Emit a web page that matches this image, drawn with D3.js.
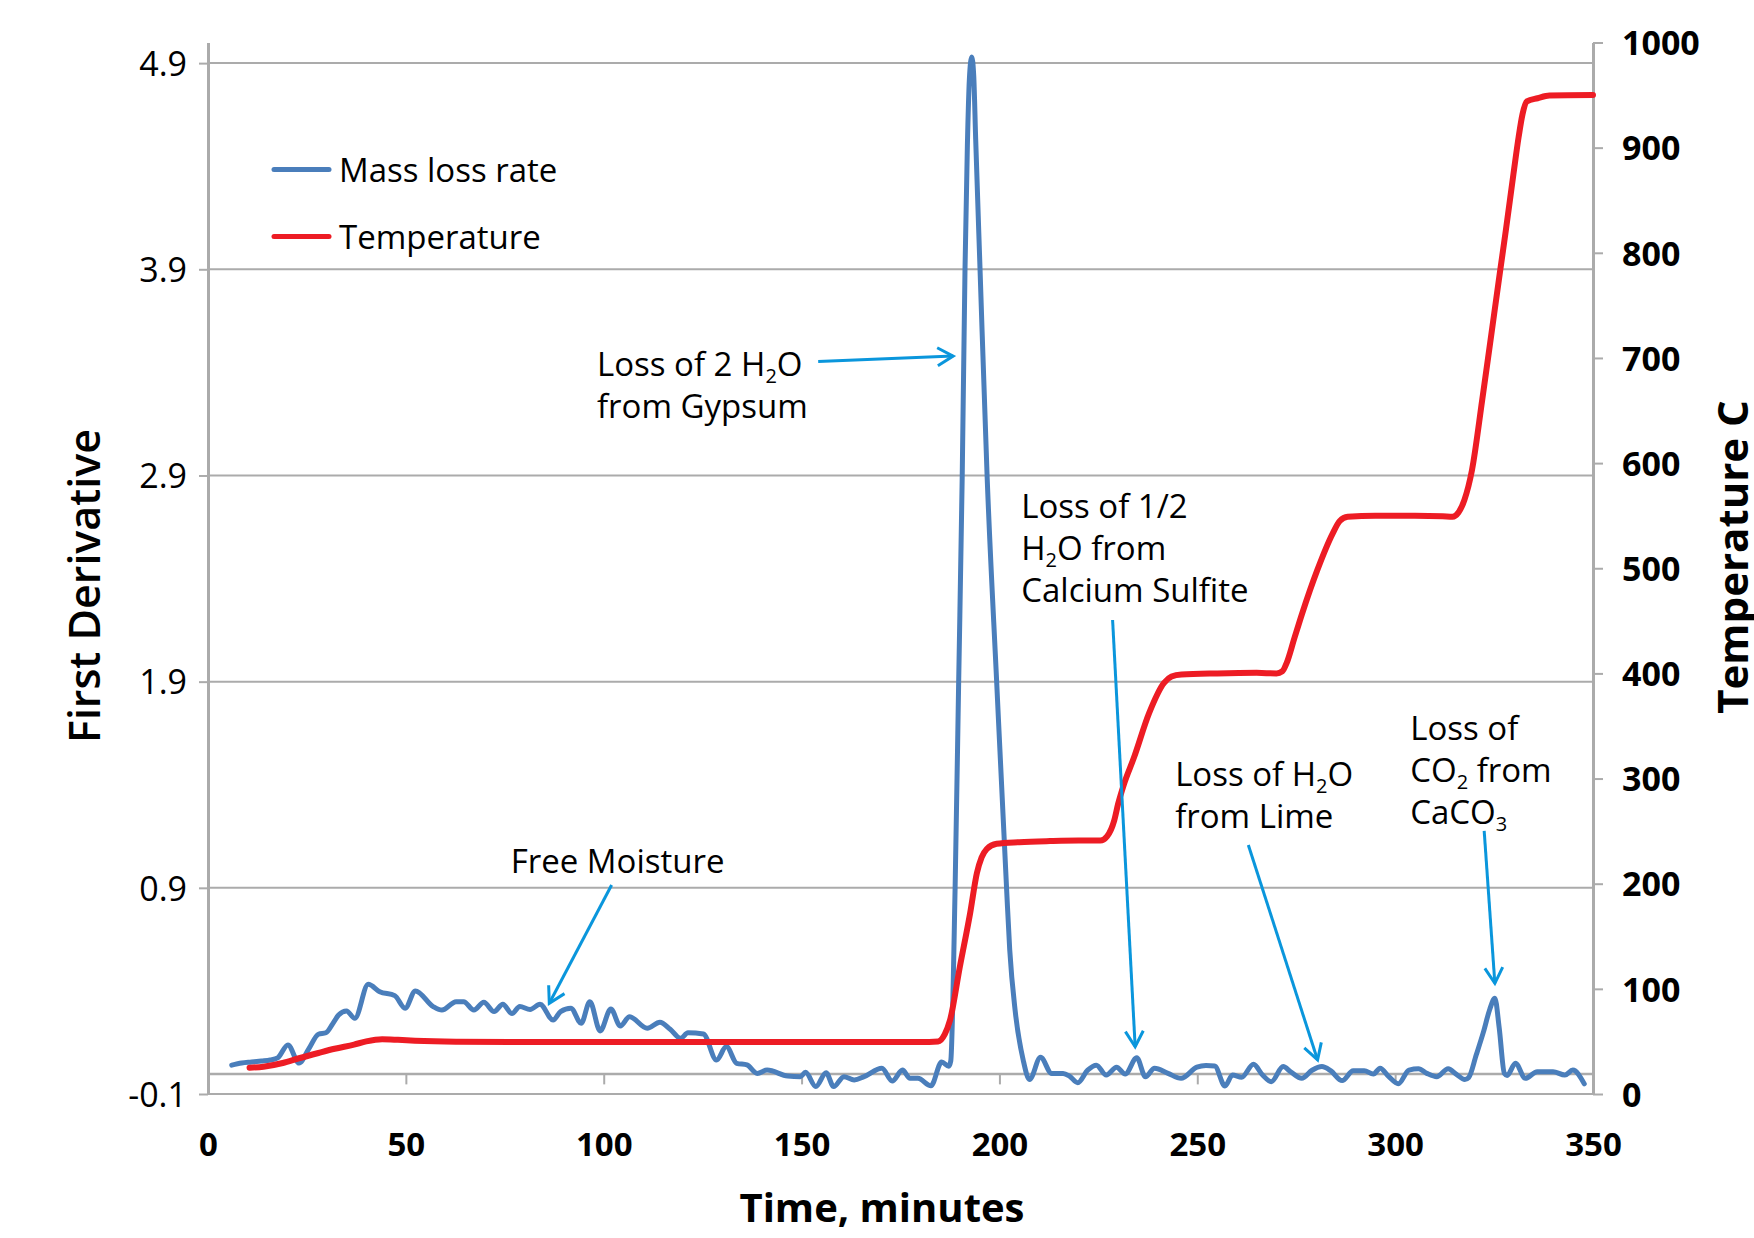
<!DOCTYPE html>
<html><head><meta charset="utf-8">
<script src="https://cdn.jsdelivr.net/npm/d3@7"></script>
<style>
html,body{margin:0;padding:0;background:#fff;overflow:hidden}
text{font-family:"Open Sans",sans-serif}
</style>
</head><body>
<svg id="chart" width="1754" height="1238"></svg>
<script>
// ---------- data ----------
const massTime = [6.0,8.5,11,13.5,15.7,17.6,20.2,23.0,25.5,27.9,29.8,31.5,33.0,35.0,37.1,40.5,43.4,47.2,49.8,52.4,56.9,59.1,62.7,64.6,67.2,69.7,72.3,74.5,76.8,78.8,81.4,83.9,87.2,89.1,91.7,94.3,96.5,99.1,101.8,104.2,106.5,111,114.2,116.8,119.4,121.3,125.2,128.5,131,133.6,136.2,138.8,141.3,146.5,149.7,151,153.6,156.2,158.1,160.7,163.3,165.8,170.3,172.9,175.5,177.4,179.4,182.7,185.4,187.2,187.7,188.8,189.7,190.6,191.3,191.9,192.4,193.0,193.5,194.0,195.1,196.9,199.3,201.8,202.6,204.0,206.0,207.6,210.4,213.2,216.1,217.7,219.8,222.3,224.5,227,229.6,231.8,234.7,236.9,239.2,242.6,245.9,249.9,252.2,254.4,257,258.9,261.2,264.2,266.5,268.7,271.7,273.6,276.4,279,281.5,283.7,286.6,289.4,292.2,294.5,296.2,298.4,300.8,303.5,305.9,308,310.5,313.4,315.5,317.6,318.6,320.5,322.3,323.9,325.2,326.3,327.6,328.3,330.4,332.9,335.9,339.9,342.9,344.9,347.8];
const massRate = [0.04,0.05,0.055,0.06,0.065,0.075,0.138,0.05,0.12,0.19,0.197,0.24,0.283,0.303,0.267,0.432,0.396,0.377,0.316,0.40,0.324,0.307,0.348,0.348,0.307,0.345,0.30,0.335,0.29,0.324,0.31,0.335,0.259,0.30,0.316,0.243,0.348,0.206,0.312,0.23,0.275,0.219,0.248,0.214,0.17,0.197,0.191,0.065,0.13,0.049,0.041,0.0,0.016,-0.013,-0.016,0.005,-0.064,0.003,-0.064,-0.016,-0.032,-0.016,0.025,-0.037,0.016,-0.024,-0.024,-0.06,0.055,0.035,0.06,0.9,1.9,2.9,3.9,4.5,4.82,4.93,4.84,4.53,3.9,2.89,1.9,0.9,0.6,0.3,0.065,-0.03,0.078,0.0,0.0,-0.013,-0.045,0.016,0.04,-0.008,0.03,-0.003,0.076,-0.016,0.025,0.0,-0.024,0.03,0.038,0.036,-0.061,-0.008,-0.019,0.044,-0.008,-0.04,0.033,0.008,-0.024,0.015,0.033,0.013,-0.035,0.013,0.013,-0.003,0.025,-0.016,-0.05,0.016,0.022,0.0,-0.016,0.022,-0.005,-0.03,-0.02,0.09,0.2,0.31,0.365,0.22,0.0,-0.01,0.049,-0.024,0.008,0.008,-0.008,0.016,-0.051];
const tempTime = [10.5,14,18.9,23,27.9,32,36.9,40,44,48,52.3,62.7,80,100,120,140,160,180,184.5,186.2,187.5,190,192.6,194.3,195.5,196.8,199.3,205,212.8,220,225.5,227.2,229,230,231.5,234,237.8,241.6,243.5,246,255,265,270,271.5,272.6,274.5,276.5,280.3,284.2,286,288,295,305,312,314.5,316,317.5,319.4,322,324,326.5,328,329.9,331.2,332.2,333.3,336,339,350];
const tempValue = [25,26,29.5,34,39,43,47,50,52,51.5,50.7,49.8,49.5,49.5,49.5,49.5,49.5,49.5,50,57,70,121,172,210,225,233,238,239.5,240.5,241,241,245,260,276,295,320,362,391,397,399,400,400.5,400,402,410,433,457,498,533,545,549,550,550,549.5,549,553,565,593,660,714,782,822,875,910,932,944,947,949.5,950];
const xTicks = [0,50,100,150,200,250,300,350];
const leftTicks = [-0.1,0.9,1.9,2.9,3.9,4.9];
const rightTicks = [0,100,200,300,400,500,600,700,800,900,1000];
const seriesNames = ["Mass loss rate","Temperature"];
const axisTitles = {x:"Time, minutes", left:"First Derivative", right:"Temperature C"};
// annotation text lines ("_" marks a subscript digit), anchor in data units (time, first-derivative)
const annotations = [
  {lines:["Free Moisture"], t:76.5, v:0.97, arrow:[102.0,0.914,86.25,0.340]},
  {lines:["Loss of 2 H_2O","from Gypsum"], t:98.3, v:3.382, arrow:[154.2,3.453,188.3,3.479]},
  {lines:["Loss of 1/2","H_2O from","Calcium Sulfite"], t:205.5, v:2.694, arrow:[228.6,2.199,234.3,0.129]},
  {lines:["Loss of H_2O","from Lime"], t:244.4, v:1.396, arrow:[262.9,1.108,280.4,0.065]},
  {lines:["Loss of","CO_2 from","CaCO_3"], t:303.8, v:1.617, arrow:[322.5,1.176,325.2,0.437]}
];

// ---------- drawing ----------
const svg = d3.select("#chart");
svg.append("rect").attr("width",1754).attr("height",1238).attr("fill","#fff");
const X = d3.scaleLinear().domain([0,350]).range([208,1593]);
const YL = d3.scaleLinear().domain([-0.1,5.0]).range([1094,42.5]);
const YR = d3.scaleLinear().domain([0,1000]).range([1094,42.5]);
const gridCol = "#ABABAB";
const blue = "#4A7EBB", red = "#ED1C24", arrowCol = "#0A96DC";

// gridlines
svg.append("g").selectAll("line").data(leftTicks).join("line")
  .attr("x1",X(0)).attr("x2",X(350)).attr("y1",d=>YL(d)).attr("y2",d=>YL(d))
  .attr("stroke",gridCol).attr("stroke-width",2);

function styleAxis(g){
  g.selectAll("path,line").attr("stroke",gridCol);
  g.select(".domain").attr("stroke-width",3);
  g.selectAll(".tick line").attr("stroke-width",2);
}
// left axis
const gl = svg.append("g").attr("transform",`translate(${X(0)},0)`)
  .call(d3.axisLeft(YL).tickValues(leftTicks).tickSize(9).tickSizeOuter(0).tickPadding(12).tickFormat(d=>d.toFixed(1)));
styleAxis(gl);
gl.selectAll("text").attr("font-size",34).attr("font-weight",500).attr("fill","#000")
  .attr("font-family","'Open Sans',sans-serif").attr("dy","0.36em");
// right axis
const gr = svg.append("g").attr("transform",`translate(${X(350)},0)`)
  .call(d3.axisRight(YR).tickValues(rightTicks).tickSize(10).tickSizeOuter(0).tickPadding(19).tickFormat(d=>String(d)));
styleAxis(gr);
gr.selectAll("text").attr("font-size",34).attr("font-weight",700).attr("fill","#000")
  .attr("font-family","'Open Sans',sans-serif").attr("dy","0.36em");
// x axis at zero
const gx = svg.append("g").attr("transform",`translate(0,${YL(0)})`)
  .call(d3.axisBottom(X).tickValues(xTicks).tickSize(11).tickSizeOuter(0).tickPadding(48).tickFormat(d=>String(d)));
styleAxis(gx);
gx.select(".domain").attr("stroke-width",2.5);
gx.selectAll("text").attr("font-size",33).attr("font-weight",700).attr("fill","#000")
  .attr("font-family","'Open Sans',sans-serif");

// series
const massData = massTime.map((t,i)=>[t,massRate[i]]);
const tempData = tempTime.map((t,i)=>[t,tempValue[i]]);
svg.append("path").datum(massData)
  .attr("d",d3.line().x(d=>X(d[0])).y(d=>YL(d[1])).curve(d3.curveMonotoneX))
  .attr("fill","none").attr("stroke",blue).attr("stroke-width",5).attr("stroke-linejoin","round").attr("stroke-linecap","round");
svg.append("path").datum(tempData)
  .attr("d",d3.line().x(d=>X(d[0])).y(d=>YR(d[1])).curve(d3.curveMonotoneX))
  .attr("fill","none").attr("stroke",red).attr("stroke-width",6).attr("stroke-linejoin","round").attr("stroke-linecap","round");

// legend
const legCols = [blue, red];
const leg = svg.append("g");
seriesNames.forEach((name,i)=>{
  const y = 169.5 + i*67;
  leg.append("line").attr("x1",274).attr("x2",329).attr("y1",y).attr("y2",y)
    .attr("stroke",legCols[i]).attr("stroke-width",5).attr("stroke-linecap","round");
  leg.append("text").attr("x",339).attr("y",y+12).attr("font-size",33).attr("fill","#000").text(name);
});

// annotations
function addRich(textSel, str){
  const parts = str.split(/(_\d)/);
  let sub = false;
  parts.forEach(p=>{
    if(!p) return;
    if(p[0]==="_"){
      textSel.append("tspan").attr("font-size",20).attr("dy",7).text(p.slice(1));
      sub = true;
    } else {
      const ts = textSel.append("tspan").text(p);
      if(sub){ ts.attr("dy",-7); sub=false; }
    }
  });
}
const ag = svg.append("g");
annotations.forEach(a=>{
  const x0 = X(a.t), y0 = YL(a.v);
  a.lines.forEach((ln,j)=>{
    const t = ag.append("text").attr("x",x0).attr("y",y0+j*42).attr("font-size",33).attr("fill","#000");
    addRich(t, ln);
  });
  const [t1,v1,t2,v2] = a.arrow;
  const xa=X(t1), ya=YL(v1), xb=X(t2), yb=YL(v2);
  ag.append("line").attr("x1",xa).attr("y1",ya).attr("x2",xb).attr("y2",yb)
    .attr("stroke",arrowCol).attr("stroke-width",3);
  const ang = Math.atan2(ya-yb, xa-xb);
  const L = 18, s = 0.52;
  const p1 = [xb+L*Math.cos(ang+s), yb+L*Math.sin(ang+s)];
  const p2 = [xb+L*Math.cos(ang-s), yb+L*Math.sin(ang-s)];
  ag.append("path").attr("d",`M${p1[0]},${p1[1]}L${xb},${yb}L${p2[0]},${p2[1]}`)
    .attr("fill","none").attr("stroke",arrowCol).attr("stroke-width",3).attr("stroke-linejoin","miter");
});

// axis titles
svg.append("text").attr("x",882).attr("y",1222).attr("text-anchor","middle")
  .attr("font-size",40).attr("font-weight",700).attr("fill","#000").text(axisTitles.x);
svg.append("text").attr("transform","translate(100,586) rotate(-90)").attr("text-anchor","middle")
  .attr("font-size",43).attr("font-weight",600).attr("fill","#000").text(axisTitles.left);
svg.append("text").attr("transform","translate(1748,557) rotate(-90)").attr("text-anchor","middle")
  .attr("font-size",42).attr("font-weight",700).attr("fill","#000").text(axisTitles.right);
</script>
</body></html>
